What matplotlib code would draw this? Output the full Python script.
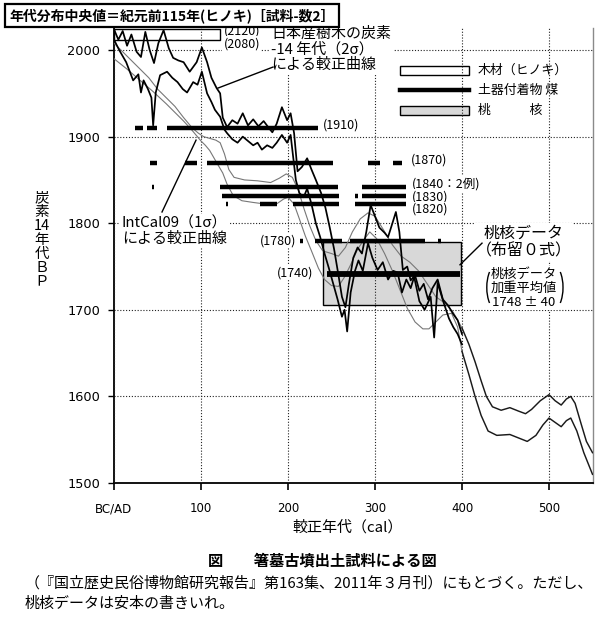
import numpy as np
import matplotlib
matplotlib.use('Agg')
import matplotlib.pyplot as plt
from matplotlib.patches import Rectangle, Arc

plt.rcParams['font.family'] = ['Noto Sans CJK JP', 'DejaVu Sans']

# ---------------- data ----------------
xticks = [0, 100, 200, 300, 400, 500]
xtick_labels = ['BC/AD', '100', '200', '300', '400', '500']
yticks = [1500, 1600, 1700, 1800, 1900, 2000]

# Japanese tree-ring 14C calibration (2 sigma), upper / lower
jp_hi_x = [0, 5, 10, 15, 20, 26, 31, 36, 41, 46, 51, 57, 63, 68, 74, 80, 87, 95, 101, 107,
           112, 118, 122, 125, 130, 136, 142, 148, 154, 160, 166, 172, 178, 182, 187, 193, 199, 203, 207, 211,
           216, 222, 227, 232, 238, 243, 248, 253, 258, 262, 266, 270, 275, 280, 285, 290, 295, 300, 305, 311,
           315, 320, 324, 328, 332, 337, 341, 346, 351, 356, 361, 366, 372, 378, 384, 390, 395, 400]
jp_hi_y = [2024, 2012, 2022, 2005, 2018, 1998, 1992, 2021, 2000, 1985, 2008, 2023, 2002, 1991, 1988, 1986, 1975, 1986, 2003, 1986,
           1968, 1956, 1950, 1922, 1911, 1919, 1915, 1927, 1913, 1920, 1912, 1918, 1910, 1905, 1915, 1934, 1919, 1927, 1904, 1860,
           1865, 1875, 1862, 1850, 1835, 1818, 1795, 1770, 1740, 1715, 1703, 1730, 1760, 1772, 1765, 1790, 1821, 1808, 1795, 1789,
           1784, 1800, 1813, 1790, 1746, 1750, 1734, 1740, 1722, 1730, 1712, 1725, 1735, 1712, 1705, 1695, 1688, 1672]
jp_lo_x = [0, 6, 14, 22, 28, 31, 34, 39, 43, 45, 48, 53, 61, 67, 73, 79, 84, 91, 96, 101,
           107, 112, 116, 122, 127, 130, 136, 142, 148, 154, 160, 165, 170, 176, 182, 187, 193, 199, 203, 209,
           213, 218, 222, 227, 232, 237, 242, 247, 252, 257, 262, 265, 268, 272, 277, 281, 286, 292, 297, 303,
           309, 315, 321, 326, 331, 336, 341, 345, 351, 357, 364, 368, 372, 379, 385, 390, 395, 400]
jp_lo_y = [2012, 2000, 1986, 1965, 1972, 1951, 1965, 1955, 1945, 1913, 1951, 1971, 1975, 1968, 1963, 1955, 1951, 1963, 1960, 1975,
           1950, 1940, 1931, 1923, 1908, 1904, 1897, 1893, 1900, 1895, 1890, 1893, 1885, 1890, 1887, 1893, 1902, 1893, 1902, 1850,
           1835, 1830, 1840, 1822, 1800, 1784, 1765, 1748, 1730, 1712, 1692, 1700, 1675, 1720, 1745, 1757, 1745, 1777, 1760, 1746,
           1755, 1735, 1745, 1743, 1720, 1735, 1725, 1738, 1710, 1700, 1715, 1668, 1731, 1708, 1690, 1680, 1672, 1660]

# IntCal09 (1 sigma), upper / lower
ic_hi_x = [0, 10, 20, 30, 40, 50, 60, 70, 80, 90, 97, 103, 110, 117, 122, 127, 132, 138, 150, 165,
           180, 190, 198, 205, 212, 218, 225, 232, 240, 250, 258, 266, 274, 283, 292, 300, 310, 320, 330, 340,
           350, 360, 370, 380, 390, 400, 408, 415, 422, 428, 435, 445, 455, 465, 473, 480, 490, 500, 507, 514,
           520, 525, 530, 537, 543, 550]
ic_hi_y = [2008, 1998, 1988, 1978, 1968, 1955, 1945, 1935, 1922, 1910, 1904, 1900, 1898, 1896, 1893, 1880, 1862, 1853, 1850, 1849,
           1847, 1852, 1857, 1853, 1838, 1818, 1797, 1780, 1768, 1765, 1762, 1772, 1790, 1805, 1812, 1808, 1792, 1775, 1762, 1755,
           1745, 1730, 1715, 1708, 1697, 1679, 1660, 1640, 1618, 1600, 1588, 1584, 1587, 1583, 1580, 1585, 1595, 1602, 1595, 1590,
           1597, 1600, 1592, 1568, 1548, 1535]
ic_lo_x = [0, 15, 30, 45, 60, 70, 80, 90, 100, 105, 110, 118, 125, 130, 137, 147, 160, 175, 185, 195,
           200, 207, 212, 220, 227, 235, 242, 250, 258, 265, 272, 280, 288, 294, 302, 311, 320, 326, 337, 346,
           355, 362, 370, 378, 388, 395, 400, 408, 415, 422, 430, 440, 455, 465, 475, 485, 493, 500, 507, 514,
           520, 525, 532, 540, 550]
ic_lo_y = [1990, 1978, 1965, 1952, 1938, 1928, 1918, 1907, 1895, 1890, 1884, 1870, 1858, 1845, 1832, 1826, 1824, 1822, 1821, 1828,
           1830, 1822, 1808, 1785, 1768, 1748, 1735, 1728, 1727, 1738, 1752, 1770, 1782, 1790, 1782, 1765, 1745, 1730, 1702, 1686,
           1678, 1678, 1686, 1694, 1696, 1680, 1652, 1625, 1600, 1578, 1560, 1555, 1556, 1552, 1548, 1555, 1567, 1575, 1570, 1565,
           1572, 1575, 1560, 1535, 1510]

# soot on pottery: calibrated ranges (cal AD) for each 14C level
soot_levels = [1910, 1870, 1842, 1831, 1822, 1780, 1741]
soot_ranges = [
    [(24, 33), (38, 49), (61, 234)],
    [(41, 49), (82, 95), (107, 252), (292, 306), (321, 331)],
    [(44, 46), (122, 257), (285, 336)],
    [(124, 259), (277, 280), (285, 336)],
    [(129, 131), (168, 187), (206, 259), (277, 336)],
    [(214, 217), (231, 262), (271, 357), (372, 376)],
    [(245, 398)],
]
soot_labels = ['(1910)', '(1870)', '(1840：2例)', '(1830)', '(1820)', '(1780)', '(1740)']

# peach stones (weighted mean 1748 +- 40)
peach_x = (240, 399)
peach_y = (1706, 1778)
# hinoki wood
wood_x = (0, 122)
wood_y = (2012, 2024)

# ---------------- figure ----------------
fig = plt.figure(figsize=(6.0, 6.24), dpi=100)
ax = fig.add_axes([0.19, 0.226, 0.7975, 0.729])
ax.set_xlim(0, 550)
ax.set_ylim(1500, 2025.4)

ax.set_xticks(xticks)
ax.set_xticklabels(xtick_labels, family='DejaVu Sans', fontsize=8.5)
ax.set_yticks(yticks)
ax.set_yticklabels([str(v) for v in yticks], family='DejaVu Sans', fontsize=9.3)
ax.tick_params(axis='x', direction='out', length=5, width=1.2, pad=9)
ax.tick_params(axis='y', direction='out', length=4, width=1.0, pad=6)
ax.set_axisbelow(False)
ax.grid(True, linestyle=(0, (1, 1.6)), linewidth=0.8, color='#222222')
for s in ['left', 'bottom']:
    ax.spines[s].set_linewidth(1.3)
ax.spines['top'].set_visible(False)
ax.spines['right'].set_color('#8a8a8a')
ax.spines['right'].set_linewidth(1.0)

# peach box
ax.add_patch(Rectangle((peach_x[0], peach_y[0]), peach_x[1] - peach_x[0], peach_y[1] - peach_y[0],
                       facecolor='#d8d8d8', edgecolor='black', lw=1.0, zorder=1))

# IntCal curves
for xs, ys in [(ic_hi_x, ic_hi_y), (ic_lo_x, ic_lo_y)]:
    xa = np.array(xs); ya = np.array(ys)
    m1 = xa <= 400
    m2 = xa >= 400
    ax.plot(xa[m1], ya[m1], color='#777777', lw=0.8, zorder=3)
    ax.plot(xa[m2], ya[m2], color='#1a1a1a', lw=1.05, zorder=3)

# Japanese curves
ax.plot(jp_hi_x, jp_hi_y, color='black', lw=1.25, zorder=3.5)
ax.plot(jp_lo_x, jp_lo_y, color='black', lw=1.25, zorder=3.5)

# soot bars
for lev, segs in zip(soot_levels, soot_ranges):
    lw = 4.2 if lev == 1741 else 3.2
    for a, b in segs:
        ax.hlines(lev, a, b, colors='black', lw=lw, zorder=4)

# wood box (beyond axis range, drawn at the top)
ax.add_patch(Rectangle((wood_x[0], wood_y[0]), wood_x[1] - wood_x[0], wood_y[1] - wood_y[0],
                       facecolor='none', edgecolor='black', lw=1.0, zorder=4, clip_on=False))

wb = dict(facecolor='white', edgecolor='none', pad=1.0)
fs_lab = 9
ax.text(126, 2021.5, '(2120)', fontsize=fs_lab, va='center', ha='left', bbox=wb, zorder=5)
ax.text(126, 2007, '(2080)', fontsize=fs_lab, va='center', ha='left', bbox=wb, zorder=5)
ax.text(240, 1913, soot_labels[0], fontsize=fs_lab, va='center', ha='left', bbox=wb, zorder=5)
ax.text(341, 1873, soot_labels[1], fontsize=fs_lab, va='center', ha='left', bbox=wb, zorder=5)
ax.text(342, 1845, soot_labels[2], fontsize=fs_lab, va='center', ha='left', bbox=wb, zorder=5)
ax.text(342, 1830.5, soot_labels[3], fontsize=fs_lab, va='center', ha='left', bbox=wb, zorder=5)
ax.text(342, 1816, soot_labels[4], fontsize=fs_lab, va='center', ha='left', bbox=wb, zorder=5)
ax.text(210, 1780, soot_labels[5], fontsize=fs_lab, va='center', ha='right', bbox=wb, zorder=5)
ax.text(229, 1743, soot_labels[6], fontsize=fs_lab, va='center', ha='right', bbox=wb, zorder=5)

# annotations
ax.text(181, 2000.5, '日本産樹木の炭素\n-14 年代（2σ）\nによる較正曲線', fontsize=10.8,
        ha='left', va='center', linespacing=1.12, bbox=dict(facecolor='white', edgecolor='none', pad=2), zorder=5)
ax.plot([182.8, 119.5], [1980.4, 1956.1], color='black', lw=1.0, zorder=5)

ax.text(9, 1791, 'IntCal09（1σ）\nによる較正曲線', fontsize=10.8,
        ha='left', va='center', linespacing=1.08, bbox=dict(facecolor='white', edgecolor='none', pad=2), zorder=5)
ax.plot([55.2, 94.3], [1813, 1896], color='black', lw=1.0, zorder=5)

ax.text(471, 1778, '桃核データ\n（布留０式）', fontsize=11.5, ha='center', va='center',
        linespacing=1.1, bbox=dict(facecolor='white', edgecolor='none', pad=1), zorder=5)
ax.plot([423, 397.7], [1777, 1752], color='black', lw=1.0, zorder=5)

ax.text(471, 1725, '桃核データ\n加重平均値\n1748 ± 40', fontsize=9.5, ha='center', va='center',
        linespacing=1.1, bbox=dict(facecolor='white', edgecolor='none', pad=1), zorder=5)
ax.add_patch(Arc((440, 1725.8), 23, 52, theta1=115, theta2=245, color='black', lw=1.0, zorder=6))
ax.add_patch(Arc((504.6, 1725.8), 23, 52, theta1=-65, theta2=65, color='black', lw=1.0, zorder=6))

# legend (drawn manually)
ax.add_patch(Rectangle((329, 1971), 79, 10.5, facecolor='none', edgecolor='black', lw=1.0, zorder=4))
ax.plot([329, 408], [1954, 1954], color='black', lw=3.2, zorder=4)
ax.add_patch(Rectangle((329, 1925), 79, 10.5, facecolor='#d8d8d8', edgecolor='black', lw=1.0, zorder=1))
ax.text(418, 1976.5, '木材（ヒノキ）', fontsize=9.3, va='center', ha='left', zorder=5)
ax.text(418, 1953.5, '土器付着物 煤', fontsize=9.3, va='center', ha='left', zorder=5)
ax.text(418, 1930.5, '桃　　　核', fontsize=9.3, va='center', ha='left', zorder=5)

# y label (stacked vertically)
fig.text(42 / 600, 1 - 240 / 624, '炭\n素\n14\n年\n代\nＢ\nＰ', fontsize=10.5, ha='center', va='center',
         linespacing=0.98)
# x label
fig.text(348 / 600, 1 - 527 / 624, '較正年代（cal）', fontsize=10.8, ha='center', va='center')

# captions
fig.text(322 / 600, 1 - 560 / 624, '図　　箸墓古墳出土試料による図', fontsize=11, ha='center', va='center',
         weight='bold')
fig.text(25 / 600, 1 - 583 / 624, '（『国立歴史民俗博物館研究報告』第163集、2011年３月刊）にもとづく。ただし、',
         fontsize=10.8, ha='left', va='center')
fig.text(25 / 600, 1 - 604 / 624, '桃核データは安本の書きいれ。', fontsize=10.8, ha='left', va='center')

# handwritten title box
fig.text(9 / 600, 1 - 15.5 / 624, '年代分布中央値＝紀元前115年(ヒノキ)［試料-数2］', fontsize=10,
         ha='left', va='center', weight='bold',
         bbox=dict(facecolor='white', edgecolor='black', lw=1.6, boxstyle='square,pad=0.32'))

fig.savefig('out.png', dpi=100)
